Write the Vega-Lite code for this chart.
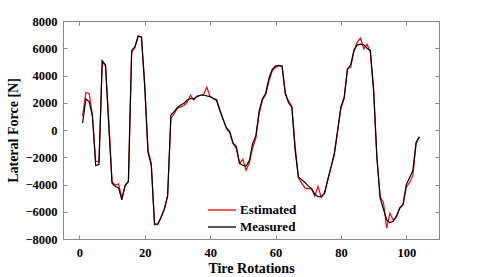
{
  "$schema": "https://vega.github.io/schema/vega-lite/v6.json",
  "width": 376,
  "height": 218,
  "autosize": "none",
  "padding": {"left": 63, "top": 21, "right": 46, "bottom": 38},
  "background": "white",
  "config": {
    "view": {"stroke": null},
    "font": "Liberation Serif",
    "axis": {
      "domainColor": "#8a8a8a",
      "tickColor": "#8a8a8a",
      "grid": false,
      "labelFont": "Liberation Serif",
      "labelFontWeight": "bold",
      "labelFontSize": 12.5,
      "labelColor": "#000000",
      "titleFont": "Liberation Serif",
      "titleFontWeight": "bold",
      "titleFontSize": 14,
      "titleColor": "#000000",
      "tickSize": -4,
      "domainWidth": 1,
      "tickWidth": 1
    },
    "legend": {
      "labelFont": "Liberation Serif",
      "labelFontWeight": "bold",
      "labelFontSize": 13,
      "labelColor": "#000000"
    }
  },
  "data": {
    "values": [
      {"r":1,"Estimated":1000,"Measured":500},
      {"r":2,"Estimated":2750,"Measured":2280},
      {"r":3,"Estimated":2680,"Measured":2080},
      {"r":4,"Estimated":1100,"Measured":1000},
      {"r":5,"Estimated":-2300,"Measured":-2620},
      {"r":6,"Estimated":-2330,"Measured":-2520},
      {"r":7,"Estimated":5000,"Measured":5090},
      {"r":8,"Estimated":4700,"Measured":4770},
      {"r":9,"Estimated":700,"Measured":300},
      {"r":10,"Estimated":-3800,"Measured":-3900},
      {"r":11,"Estimated":-4050,"Measured":-4150},
      {"r":12,"Estimated":-3950,"Measured":-4250},
      {"r":13,"Estimated":-5000,"Measured":-5120},
      {"r":14,"Estimated":-4100,"Measured":-4050},
      {"r":15,"Estimated":-3800,"Measured":-3780},
      {"r":16,"Estimated":5700,"Measured":5820},
      {"r":17,"Estimated":6050,"Measured":6110},
      {"r":18,"Estimated":6900,"Measured":6900},
      {"r":19,"Estimated":6800,"Measured":6830},
      {"r":20,"Estimated":3300,"Measured":3200},
      {"r":21,"Estimated":-1500,"Measured":-1650},
      {"r":22,"Estimated":-2450,"Measured":-2600},
      {"r":23,"Estimated":-6950,"Measured":-6900},
      {"r":24,"Estimated":-6950,"Measured":-6880},
      {"r":25,"Estimated":-6400,"Measured":-6400},
      {"r":26,"Estimated":-5800,"Measured":-5800},
      {"r":27,"Estimated":-4800,"Measured":-4850},
      {"r":28,"Estimated":850,"Measured":1100},
      {"r":29,"Estimated":1200,"Measured":1350},
      {"r":30,"Estimated":1600,"Measured":1650},
      {"r":31,"Estimated":1700,"Measured":1830},
      {"r":32,"Estimated":1800,"Measured":1960},
      {"r":33,"Estimated":2050,"Measured":2200},
      {"r":34,"Estimated":2550,"Measured":2320},
      {"r":35,"Estimated":2200,"Measured":2280},
      {"r":36,"Estimated":2500,"Measured":2450},
      {"r":37,"Estimated":2550,"Measured":2550},
      {"r":38,"Estimated":2600,"Measured":2570},
      {"r":39,"Estimated":3150,"Measured":2500},
      {"r":40,"Estimated":2450,"Measured":2450},
      {"r":41,"Estimated":2300,"Measured":2320},
      {"r":42,"Estimated":2150,"Measured":2200},
      {"r":43,"Estimated":1400,"Measured":1450},
      {"r":44,"Estimated":800,"Measured":750},
      {"r":45,"Estimated":100,"Measured":150},
      {"r":46,"Estimated":-200,"Measured":-120},
      {"r":47,"Estimated":-1000,"Measured":-950},
      {"r":48,"Estimated":-1350,"Measured":-1200},
      {"r":49,"Estimated":-2450,"Measured":-2450},
      {"r":50,"Estimated":-2150,"Measured":-2600},
      {"r":51,"Estimated":-2950,"Measured":-2650},
      {"r":52,"Estimated":-2400,"Measured":-2250},
      {"r":53,"Estimated":-1300,"Measured":-1000},
      {"r":54,"Estimated":-600,"Measured":-400},
      {"r":55,"Estimated":1200,"Measured":1400},
      {"r":56,"Estimated":2200,"Measured":2300},
      {"r":57,"Estimated":2600,"Measured":2700},
      {"r":58,"Estimated":3600,"Measured":3800},
      {"r":59,"Estimated":4350,"Measured":4450},
      {"r":60,"Estimated":4600,"Measured":4700},
      {"r":61,"Estimated":4700,"Measured":4750},
      {"r":62,"Estimated":4700,"Measured":4680},
      {"r":63,"Estimated":2700,"Measured":2650},
      {"r":64,"Estimated":2100,"Measured":2000},
      {"r":65,"Estimated":1750,"Measured":1650},
      {"r":66,"Estimated":-1200,"Measured":-1500},
      {"r":67,"Estimated":-3500,"Measured":-3450},
      {"r":68,"Estimated":-3900,"Measured":-3650},
      {"r":69,"Estimated":-4250,"Measured":-3850},
      {"r":70,"Estimated":-4300,"Measured":-4100},
      {"r":71,"Estimated":-4300,"Measured":-4300},
      {"r":72,"Estimated":-4850,"Measured":-4700},
      {"r":73,"Estimated":-4150,"Measured":-4900},
      {"r":74,"Estimated":-4950,"Measured":-4900},
      {"r":75,"Estimated":-4600,"Measured":-4650},
      {"r":76,"Estimated":-3700,"Measured":-3600},
      {"r":77,"Estimated":-2700,"Measured":-2700},
      {"r":78,"Estimated":-1800,"Measured":-1700},
      {"r":79,"Estimated":-100,"Measured":0},
      {"r":80,"Estimated":1600,"Measured":1700},
      {"r":81,"Estimated":2300,"Measured":2400},
      {"r":82,"Estimated":4500,"Measured":4450},
      {"r":83,"Estimated":4600,"Measured":4800},
      {"r":84,"Estimated":5800,"Measured":5850},
      {"r":85,"Estimated":6450,"Measured":6250},
      {"r":86,"Estimated":6750,"Measured":6300},
      {"r":87,"Estimated":5950,"Measured":6250},
      {"r":88,"Estimated":6300,"Measured":6000},
      {"r":89,"Estimated":5700,"Measured":5850},
      {"r":90,"Estimated":2800,"Measured":3000},
      {"r":91,"Estimated":-2000,"Measured":-2000},
      {"r":92,"Estimated":-4900,"Measured":-5000},
      {"r":93,"Estimated":-5300,"Measured":-5800},
      {"r":94,"Estimated":-7200,"Measured":-6600},
      {"r":95,"Estimated":-6100,"Measured":-6800},
      {"r":96,"Estimated":-6600,"Measured":-6700},
      {"r":97,"Estimated":-6400,"Measured":-6300},
      {"r":98,"Estimated":-5700,"Measured":-5750},
      {"r":99,"Estimated":-5500,"Measured":-5450},
      {"r":100,"Estimated":-4200,"Measured":-4000},
      {"r":101,"Estimated":-3850,"Measured":-3500},
      {"r":102,"Estimated":-3350,"Measured":-3000},
      {"r":103,"Estimated":-1000,"Measured":-900},
      {"r":104,"Estimated":-500,"Measured":-500}
    ]
  },
  "transform": [{"fold": ["Estimated", "Measured"], "as": ["series", "value"]}],
  "layer": [
    {
      "transform": [{"filter": "datum.series === 'Estimated'"}],
      "mark": {"type": "line", "strokeWidth": 1.2, "clip": true},
      "encoding": {
        "x": {"field": "r", "type": "quantitative", "scale": {"domain": [-5, 110], "nice": false, "zero": false},
              "axis": {"orient": "bottom", "values": [0, 20, 40, 60, 80, 100], "format": "d", "title": "Tire Rotations", "labelPadding": 11, "titlePadding": 3, "labelFont": "Liberation Serif", "labelFontWeight": "bold"}},
        "y": {"field": "value", "type": "quantitative", "scale": {"domain": [-8000, 8000], "nice": false},
              "axis": {"orient": "left", "values": [-8000, -6000, -4000, -2000, 0, 2000, 4000, 6000, 8000], "format": "d", "title": "Lateral Force [N]", "labelPadding": 10, "titlePadding": 4, "labelFont": "Liberation Serif", "labelFontWeight": "bold"}},
        "color": {"field": "series", "type": "nominal",
                  "scale": {"domain": ["Estimated", "Measured"], "range": ["#ff0000", "#000000"]},
                  "legend": {"title": null, "orient": "none", "legendX": 151, "legendY": 181, "symbolType": "M-2,0H2", "symbolSize": 196, "symbolStrokeWidth": 1.3, "rowPadding": 2, "labelOffset": 10}}
      }
    },
    {
      "transform": [{"filter": "datum.series === 'Measured'"}],
      "mark": {"type": "line", "strokeWidth": 1.2, "clip": true},
      "encoding": {
        "x": {"field": "r", "type": "quantitative",
              "axis": {"orient": "top", "values": [0, 20, 40, 60, 80, 100], "labels": false, "title": null}},
        "y": {"field": "value", "type": "quantitative",
              "axis": {"orient": "right", "values": [-8000, -6000, -4000, -2000, 0, 2000, 4000, 6000, 8000], "labels": false, "title": null}},
        "color": {"field": "series", "type": "nominal"}
      }
    }
  ],
  "resolve": {"axis": {"x": "independent", "y": "independent"}}
}
